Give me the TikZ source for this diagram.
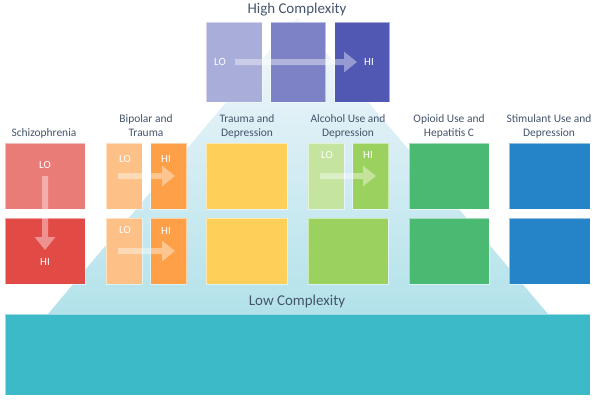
\documentclass[tikz,border=0pt]{standalone}
\usepackage{fontspec}
\setmainfont{Carlito}
\usetikzlibrary{arrows.meta, positioning}
\definecolor{txtgray}{HTML}{44546A}
\definecolor{topA}{HTML}{A9ADDA}
\definecolor{topB}{HTML}{7D82C7}
\definecolor{topC}{HTML}{5158B4}
\definecolor{szA}{HTML}{E97C77}
\definecolor{szB}{HTML}{E24A46}
\definecolor{bpA}{HTML}{FDC086}
\definecolor{bpB}{HTML}{FDA047}
\definecolor{tdY}{HTML}{FECF59}
\definecolor{alA}{HTML}{C5E4A0}
\definecolor{alB}{HTML}{9BD15F}
\definecolor{opG}{HTML}{4ABA73}
\definecolor{stB}{HTML}{2484C7}
\definecolor{baseT}{HTML}{3DBAC8}
\definecolor{triTop}{HTML}{F4F7FC}
\definecolor{triMid}{HTML}{C8DDF0}
\definecolor{triBot}{HTML}{B3E2EA}

\begin{document}
\begin{tikzpicture}[x=1bp, y=1bp,
    box/.style={draw=white, draw opacity=0.5, line width=0.8bp, inner sep=0pt, minimum height=66bp},
    lbl/.style={text=txtgray, font=\fontsize{11.5}{14}\selectfont, align=center},
    tag/.style={text=white, font=\fontsize{11}{13}\selectfont, inner sep=1bp},
    blk/.style={white, line width=6bp, line cap=butt, -{Triangle[width=20bp, length=13bp]}}]
    \useasboundingbox (0,0) rectangle (596,400);

    % 三角形背景
    \shade[top color=triTop, middle color=triMid, bottom color=triBot]
        (48,86) -- (297,382) -- (548,86) -- cycle;
    \node[draw=white, draw opacity=0.5, line width=0.8bp, fill=baseT, minimum width=585bp, minimum height=81bp, inner sep=0pt] (base) at (297.5,45.5) {};
    \node[text=txtgray, font=\fontsize{15}{18}\selectfont] (low) at (297,98) {Low Complexity};
    \node[text=txtgray, font=\fontsize{15}{18}\selectfont] (high) at (297,390) {High Complexity};

    % 顶部:高复杂度
    \node[box, fill=topA, minimum width=56bp, minimum height=80bp] (t1) at (234,338) {};
    \node[box, fill=topB, minimum width=55bp, minimum height=80bp, right=8bp of t1] (t2) {};
    \node[box, fill=topC, minimum width=55bp, minimum height=80bp, right=8bp of t2] (t3) {};

    % 第一行与第二行
    \node[box, fill=szA, minimum width=80bp] (sz1) at (45,224) {};
    \node[box, fill=szB, minimum width=80bp] (sz2) at (45,149) {};
    \node[box, fill=bpA, minimum width=36bp] (bp1a) at (124,224) {};
    \node[box, fill=bpB, minimum width=36bp, right=8bp of bp1a] (bp1b) {};
    \node[box, fill=bpA, minimum width=36bp] (bp2a) at (124,149) {};
    \node[box, fill=bpB, minimum width=36bp, right=8bp of bp2a] (bp2b) {};
    \node[box, fill=tdY, minimum width=81bp] (td1) at (246.5,224) {};
    \node[box, fill=tdY, minimum width=81bp] (td2) at (246.5,149) {};
    \node[box, fill=alA, minimum width=36bp] (al1a) at (326,224) {};
    \node[box, fill=alB, minimum width=36bp, right=8bp of al1a] (al1b) {};
    \node[box, fill=alB, minimum width=80bp] (al2) at (348,149) {};
    \node[box, fill=opG, minimum width=80bp] (op1) at (449,224) {};
    \node[box, fill=opG, minimum width=80bp] (op2) at (449,149) {};
    \node[box, fill=stB, minimum width=81bp] (st1) at (549.5,224) {};
    \node[box, fill=stB, minimum width=81bp] (st2) at (549.5,149) {};

    % 标题
    \node[lbl] (szl) at (44,267) {Schizophrenia};
    \node[lbl] (bpl) at (146,274) {Bipolar and\\Trauma};
    \node[lbl] (tdl) at (247,274) {Trauma and\\Depression};
    \node[lbl] (all) at (348,274) {Alcohol Use and\\Depression};
    \node[lbl] (opl) at (449,274) {Opioid Use and\\Hepatitis C};
    \node[lbl] (stl) at (549,274) {Stimulant Use and\\Depression};

    % LO / HI
    \node[tag] (tlo) at (220,338) {LO};
    \node[tag] (thi) at (369,338) {HI};
    \node[tag] (szlo) at (45,235) {LO};
    \node[tag] (szhi) at (45,138) {HI};
    \node[tag] (bp1lo) at (125,241) {LO};
    \node[tag] (bp1hi) at (166,241) {HI};
    \node[tag] (bp2lo) at (125,170) {LO};
    \node[tag] (bp2hi) at (166,169) {HI};
    \node[tag] (al1lo) at (327,245) {LO};
    \node[tag] (al1hi) at (368,245) {HI};

    % 箭头
    \coordinate (ta) at (235,338);   \coordinate (tb) at (357,338);
    \coordinate (sza) at (45,224);   \coordinate (szb) at (45,150);
    \coordinate (bp1s) at (118,224); \coordinate (bp1e) at (175,224);
    \coordinate (bp2s) at (118,149); \coordinate (bp2e) at (175,149);
    \coordinate (al1s) at (320,224); \coordinate (al1e) at (376,224);
    \begin{scope}[transparency group, opacity=0.4]
        \draw[blk] (ta) -- (tb);
        \draw[blk] (sza) -- (szb);
        \draw[blk] (bp1s) -- (bp1e);
        \draw[blk] (bp2s) -- (bp2e);
        \draw[blk] (al1s) -- (al1e);
    \end{scope}
\end{tikzpicture}
\end{document}
